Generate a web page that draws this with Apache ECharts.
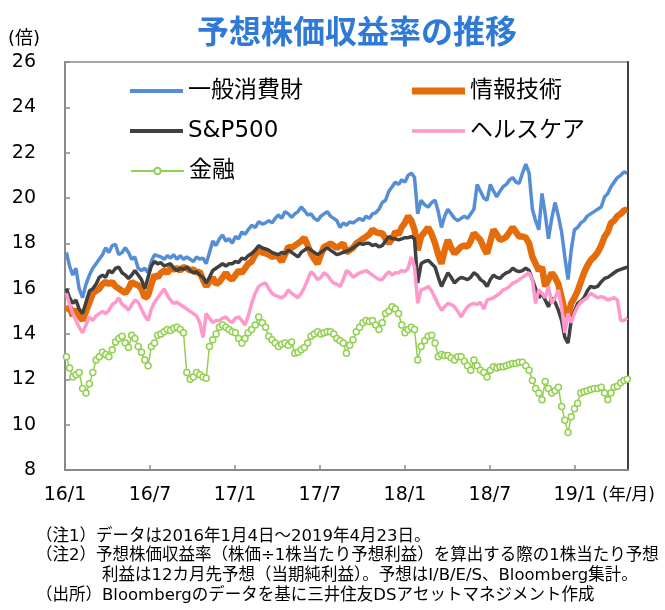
<!DOCTYPE html>
<html><head><meta charset="utf-8">
<script src="https://cdn.jsdelivr.net/npm/echarts@6/dist/echarts.min.js"></script>
<style>html,body{margin:0;padding:0;background:#fff}#c{width:665px;height:610px}</style>
</head><body><div id="c"></div>
<script>
// weekly observations starting 2016-01-04 (7-day step)
const startDate = '2016-01-04';
const xTickLabels = ['16/1','16/7','17/1','17/7','18/1','18/7','19/1'];
const seriesNames = ['一般消費財','情報技術','S&P500','ヘルスケア','金融'];

const consumer = [
17.6, 17.0, 16.6, 16.9, 16.0, 15.6, 16.2, 16.6, 16.9, 17.1,
17.3, 17.5, 17.8, 17.6, 17.9, 17.95, 17.5, 17.6, 17.8, 17.6,
17.3, 17.4, 16.9, 16.8, 16.9, 16.7, 17.2, 17.5, 17.45, 17.4,
17.3, 17.45, 17.35, 17.5, 17.3, 17.45, 17.3, 17.4, 17.3, 17.2,
17.4, 17.3, 17.35, 17.1, 17.6, 18.1, 17.9, 18.2, 18.37, 18.1,
18.2, 18.0, 18.3, 18.2, 18.5, 18.4, 18.6, 18.8, 18.7, 18.95,
18.85, 18.9, 19.0, 18.9, 19.1, 19.25, 19.1, 19.4, 19.3, 19.15,
19.3, 19.4, 19.6, 19.45, 19.25, 19.3, 19.1, 19.0, 19.2, 19.3,
19.4, 19.2, 19.1, 19.0, 18.7, 18.9, 18.8, 18.94, 18.9, 19.0,
19.1, 19.0, 19.2, 19.1, 19.3, 19.35, 19.5, 19.8, 19.9, 20.3,
20.5, 20.7, 20.6, 20.8, 20.7, 21.0, 21.1, 20.9, 19.3, 19.9,
19.7, 19.6, 19.8, 19.9, 19.4, 18.7, 19.2, 19.5, 19.3, 19.1,
19.0, 19.1, 19.2, 19.1, 19.3, 19.5, 20.6, 20.3, 20.0, 19.9,
20.6, 20.3, 20.05, 20.3, 20.5, 20.6, 20.8, 20.9, 20.7, 20.65,
21.1, 21.5, 21.1, 19.5, 19.0, 18.6, 20.2, 19.3, 18.2, 19.1,
19.8, 19.2, 18.5, 17.4, 16.4, 17.7, 18.6, 18.7, 18.9, 19.0,
19.2, 19.3, 19.4, 19.5, 19.6, 20.05, 20.2, 20.5, 20.7, 20.9,
21.0, 21.15, 21.1
];

const infoTech = [
15.0, 15.2, 14.8, 15.1, 14.8, 14.6, 15.0, 15.4, 15.8, 15.9,
16.0, 16.2, 16.3, 16.2, 16.3, 16.1, 16.0, 15.9, 15.8, 16.0,
16.3, 16.2, 16.15, 16.0, 15.6, 15.7, 16.2, 16.6, 16.5, 16.7,
16.8, 16.7, 16.9, 16.85, 16.9, 16.8, 16.95, 16.9, 16.8, 16.85,
16.7, 16.75, 16.4, 16.1, 16.3, 16.5, 16.2, 16.3, 16.5, 16.7,
16.5, 16.4, 16.6, 16.8, 16.7, 16.9, 17.1, 17.2, 17.5, 17.7,
17.6, 17.55, 17.5, 17.4, 17.45, 17.4, 17.2, 17.5, 17.85, 17.8,
17.9, 18.0, 18.1, 18.25, 17.9, 17.55, 17.3, 17.1, 17.5, 17.85,
17.9, 18.0, 17.9, 17.8, 17.9, 18.0, 17.6, 17.7, 17.8, 18.0,
18.1, 18.2, 18.3, 18.4, 18.6, 18.5, 18.45, 18.45, 18.2, 18.0,
18.2, 18.5, 18.4, 18.7, 18.9, 19.2, 19.0, 18.6, 17.7, 18.3,
18.5, 18.7, 18.4, 18.0, 17.5, 17.1, 17.7, 18.15, 17.8, 17.55,
17.7, 17.85, 17.9, 17.85, 18.1, 18.45, 18.3, 18.15, 17.8, 17.55,
18.1, 18.6, 18.4, 18.15, 18.2, 18.3, 18.5, 18.7, 18.5, 18.3,
18.3, 18.25, 18.0, 17.4, 17.1, 16.8, 16.95, 16.1, 16.4, 16.7,
16.5, 16.2, 15.6, 15.0, 14.75, 15.35, 15.6, 15.9, 16.3, 16.7,
17.0, 17.25, 17.4, 17.6, 17.9, 18.3, 18.5, 18.9, 19.0, 19.2,
19.3, 19.45, 19.5
];

const sp500 = [
16.0, 15.6, 15.35, 15.5, 15.1, 14.9, 15.4, 15.9, 16.0, 16.2,
16.5, 16.6, 16.5, 16.8, 16.7, 16.9, 16.95, 16.7, 16.6, 16.45,
16.6, 16.8, 16.6, 16.4, 16.0, 16.5, 17.0, 17.2, 17.1, 17.15,
17.0, 17.05, 17.1, 16.9, 16.8, 16.9, 16.85, 16.95, 16.8, 16.7,
16.75, 16.6, 16.5, 16.25, 16.5, 16.8, 16.9, 17.0, 17.1, 17.0,
17.1, 17.1, 17.2, 17.15, 17.35, 17.3, 17.45, 17.55, 17.7, 17.9,
17.8, 17.75, 17.7, 17.6, 17.55, 17.5, 17.6, 17.55, 17.7, 17.6,
17.5, 17.4, 17.6, 17.7, 17.8, 17.7, 17.6, 17.5, 17.6, 17.7,
17.8, 17.7, 17.6, 17.5, 17.55, 17.6, 17.65, 17.7, 17.8, 17.9,
18.0, 17.95, 18.0, 18.0, 17.9, 17.95, 17.85, 17.9, 18.1, 18.3,
18.2, 18.2, 18.15, 18.2, 18.25, 18.25, 18.3, 18.2, 16.25, 17.1,
17.2, 17.25, 17.1, 16.95, 16.5, 16.1, 16.4, 16.7, 16.5, 16.25,
16.4, 16.5, 16.45, 16.4, 16.5, 16.7, 16.6, 16.4, 16.3, 16.1,
16.4, 16.6, 16.5, 16.45, 16.6, 16.7, 16.75, 16.9, 16.8, 16.75,
16.8, 16.9, 16.8, 16.4, 16.0, 15.6, 15.8, 15.5, 15.2, 15.6,
15.4, 15.05, 14.6, 13.85, 13.6, 14.6, 15.0, 15.35, 15.45, 15.6,
15.9, 16.1, 16.05, 16.1, 16.3, 16.45, 16.5, 16.6, 16.7, 16.8,
16.85, 16.9, 16.95
];

const healthCare = [
15.8, 15.3, 14.9, 14.6, 14.3, 14.05, 14.4, 14.75, 14.6, 14.8,
14.9, 15.0, 14.9, 15.05, 15.3, 15.4, 15.6, 15.3, 15.2, 15.05,
15.3, 15.5, 15.4, 15.1, 14.8, 14.6, 15.1, 15.4, 15.6, 15.8,
16.0, 15.7, 15.5, 15.35, 15.4, 15.3, 15.2, 15.1, 15.0, 14.9,
14.8, 14.5, 13.85, 14.9, 14.7, 14.5, 14.6, 14.6, 14.7, 14.75,
14.6, 14.5, 14.7, 14.75, 14.6, 14.4, 14.8, 15.35, 15.8, 16.1,
16.2, 16.25, 16.0, 15.8, 15.7, 15.65, 15.6, 15.7, 15.95, 15.8,
15.7, 15.6, 15.8, 16.05, 16.4, 16.75, 16.6, 16.4, 16.5, 16.7,
16.6, 16.4, 16.25, 16.2, 16.1, 16.4, 16.8, 16.7, 16.5, 16.6,
16.7, 16.75, 16.8, 16.7, 16.6, 16.5, 16.4, 16.4, 16.6, 16.75,
16.6, 16.7, 16.7, 16.8, 16.75, 16.9, 17.4, 16.95, 15.35, 15.95,
16.0, 16.1, 15.9, 15.6, 15.3, 15.05, 15.2, 15.35, 15.3, 15.2,
15.0, 14.75, 15.0, 15.2, 15.3, 15.35, 15.3, 15.4, 15.1, 15.5,
15.55, 15.6, 15.7, 15.8, 15.95, 16.0, 16.1, 16.25, 16.3, 16.4,
16.5, 16.6, 16.7, 16.4, 15.35, 15.95, 15.8, 15.6, 16.1, 15.35,
15.6, 15.95, 15.2, 14.05, 14.9, 14.5, 14.9, 15.2, 15.4, 15.5,
15.6, 15.8, 15.7, 15.6, 15.65, 15.6, 15.5, 15.55, 15.6, 15.5,
14.6, 14.6, 14.7
];

const financials = [
13.0, 12.5, 12.1, 12.2, 12.3, 11.6, 11.4, 11.8, 12.3, 12.85,
13.0, 13.2, 13.1, 13.0, 13.3, 13.65, 13.8, 13.9, 13.6, 13.4,
13.95, 13.8, 13.45, 13.2, 12.85, 12.6, 13.45, 13.6, 13.95, 14.0,
14.1, 14.2, 14.15, 14.25, 14.3, 14.2, 14.05, 12.3, 12.0, 12.1,
12.3, 12.2, 12.1, 12.05, 13.45, 13.75, 14.0, 14.3, 14.4, 14.3,
14.2, 14.1, 14.05, 13.8, 13.6, 13.8, 14.05, 14.2, 14.4, 14.75,
14.5, 14.3, 13.9, 13.75, 13.6, 13.45, 13.55, 13.6, 13.5, 13.65,
13.15, 13.2, 13.3, 13.4, 13.6, 13.9, 14.0, 14.1, 14.0, 14.05,
14.1, 14.1, 14.0, 13.8, 13.7, 13.6, 13.15, 13.5, 13.75, 14.1,
14.3, 14.5, 14.6, 14.55, 14.6, 14.4, 14.2, 14.5, 14.9, 15.0,
15.2, 15.1, 14.9, 14.4, 14.05, 14.2, 14.3, 14.2, 12.85, 13.45,
13.7, 13.9, 13.95, 13.6, 13.0, 13.1, 13.05, 13.05, 12.95, 12.85,
13.0, 13.0, 12.8, 12.6, 12.4, 12.85, 12.6, 12.4, 12.3, 12.1,
12.4, 12.55, 12.5, 12.55, 12.55, 12.6, 12.65, 12.7, 12.7, 12.75,
12.75, 12.6, 12.4, 11.95, 11.6, 11.4, 11.1, 11.9, 11.6, 11.4,
11.5, 11.65, 10.8, 10.2, 9.65, 10.35, 10.7, 10.95, 11.4, 11.45,
11.5, 11.55, 11.6, 11.6, 11.65, 11.4, 11.1, 11.4, 11.65, 11.7,
11.85, 11.95, 12.0
];

// convert each weekly date to "months since 2016/1/1" for the value x-axis
function monthPos(d) {
  const y = d.getUTCFullYear(), m = d.getUTCMonth(), day = d.getUTCDate();
  const dim = new Date(Date.UTC(y, m + 1, 0)).getUTCDate();
  return (y - 2016) * 12 + m + (day - 1) / dim;
}
const t0 = Date.parse(startDate + 'T00:00:00Z');
const xPos = consumer.map((_, i) => monthPos(new Date(t0 + i * 7 * 86400000)));
const pair = arr => arr.map((v, i) => [xPos[i], v]);

const FONT = '"Noto Sans CJK JP", "Noto Sans", sans-serif';
const NFONT = '"DejaVu Sans", "Noto Sans CJK JP", sans-serif';
const chart = echarts.init(document.getElementById('c'), null, {renderer: 'canvas'});

const bar = h => 'path://M0,0H60V' + h + 'H0Z';
const legendText = {fontSize: 23, color: '#000', lineHeight: 26, fontFamily: NFONT};

chart.setOption({
  animation: false,
  backgroundColor: '#fff',
  textStyle: {fontFamily: FONT},
  title: {
    text: '予想株価収益率の推移', left: 192, top: 10,
    textStyle: {fontSize: 32, fontWeight: 'bold', color: '#2F7AD6', fontFamily: FONT}
  },
  grid: {left: 65, right: 37, top: 62, bottom: 140, show: true, borderColor: '#8a8a8a', borderWidth: 1.5},
  legend: [
    {data: [{name: '一般消費財', icon: bar(4.5)}, {name: 'S&P500', icon: bar(4.5)}],
     orient: 'vertical', left: 125, top: 73, itemWidth: 53, itemHeight: 14, itemGap: 14,
     textStyle: legendText},
    {data: [{name: '金融'}],
     orient: 'vertical', left: 125, top: 153, itemWidth: 53, itemHeight: 8, itemGap: 14,
     textStyle: legendText},
    {data: [{name: '情報技術', icon: bar(8)}, {name: 'ヘルスケア', icon: bar(4)}],
     orient: 'vertical', left: 407, top: 73, itemWidth: 53, itemHeight: 14, itemGap: 14,
     textStyle: legendText}
  ],
  xAxis: {
    type: 'value', min: 0, max: 39.75, interval: 6,
    axisLine: {lineStyle: {color: '#8a8a8a', width: 2}},
    axisTick: {inside: true, length: 5, lineStyle: {color: '#8a8a8a', width: 1.5}},
    splitLine: {show: false},
    axisLabel: {
      fontSize: 19, color: '#000', margin: 16, fontFamily: NFONT, showMaxLabel: false,
      formatter: v => (Math.abs(v / 6 - Math.round(v / 6)) < 1e-6 ? (xTickLabels[Math.round(v / 6)] || '') : '')
    }
  },
  yAxis: [
    {type: 'value', min: 8, max: 26, interval: 2,
     axisLine: {show: true, lineStyle: {color: '#8a8a8a', width: 2}},
     axisTick: {show: true, inside: true, length: 5, lineStyle: {color: '#8a8a8a', width: 1.5}},
     splitLine: {show: false},
     axisLabel: {fontSize: 19, color: '#000', margin: 29, fontFamily: NFONT}},
    {type: 'value', min: 8, max: 26, interval: 2, position: 'right',
     axisLine: {show: true, lineStyle: {color: '#404040', width: 2}},
     axisTick: {show: false}, axisLabel: {show: false}, splitLine: {show: false}}
  ],
  graphic: [
    {type: 'text', left: 8, top: 30, style: {text: '(倍)', fill: '#000', font: '18px ' + NFONT}},
    {type: 'text', left: 602, top: 487, style: {text: '(年/月)', fill: '#000', font: '17px ' + NFONT}},
    {type: 'text', left: 36, top: 528, style: {text: '（注1）データは2016年1月4日～2019年4月23日。', fill: '#000', font: '16.5px ' + NFONT}},
    {type: 'text', left: 36, top: 547, style: {text: '（注2）予想株価収益率（株価÷1株当たり予想利益）を算出する際の1株当たり予想', fill: '#000', font: '16.5px ' + NFONT}},
    {type: 'text', left: 102, top: 567, style: {text: '利益は12カ月先予想（当期純利益）。予想はI/B/E/S、Bloomberg集計。', fill: '#000', font: '16.5px ' + NFONT}},
    {type: 'text', left: 36, top: 587, style: {text: '（出所）Bloombergのデータを基に三井住友DSアセットマネジメント作成', fill: '#000', font: '16.5px ' + NFONT}}
  ],
  series: [
    {name: seriesNames[0], type: 'line', data: pair(consumer), showSymbol: false, symbol: 'none',
     lineStyle: {color: '#558ED5', width: 3.5}, itemStyle: {color: '#558ED5'}},
    {name: seriesNames[1], type: 'line', data: pair(infoTech), showSymbol: false, symbol: 'none',
     lineStyle: {color: '#E46C0A', width: 6.5}, itemStyle: {color: '#E46C0A'}},
    {name: seriesNames[2], type: 'line', data: pair(sp500), showSymbol: false, symbol: 'none',
     lineStyle: {color: '#404040', width: 3.5}, itemStyle: {color: '#404040'}},
    {name: seriesNames[3], type: 'line', data: pair(healthCare), showSymbol: false, symbol: 'none',
     lineStyle: {color: '#FF99CC', width: 3.5}, itemStyle: {color: '#FF99CC'}},
    {name: seriesNames[4], type: 'line', data: pair(financials), symbol: 'circle', symbolSize: 6,
     showSymbol: true, showAllSymbol: true,
     lineStyle: {color: '#92D050', width: 1.5},
     itemStyle: {color: '#fff', borderColor: '#92D050', borderWidth: 1.5}}
  ]
});
</script>
</body></html>
